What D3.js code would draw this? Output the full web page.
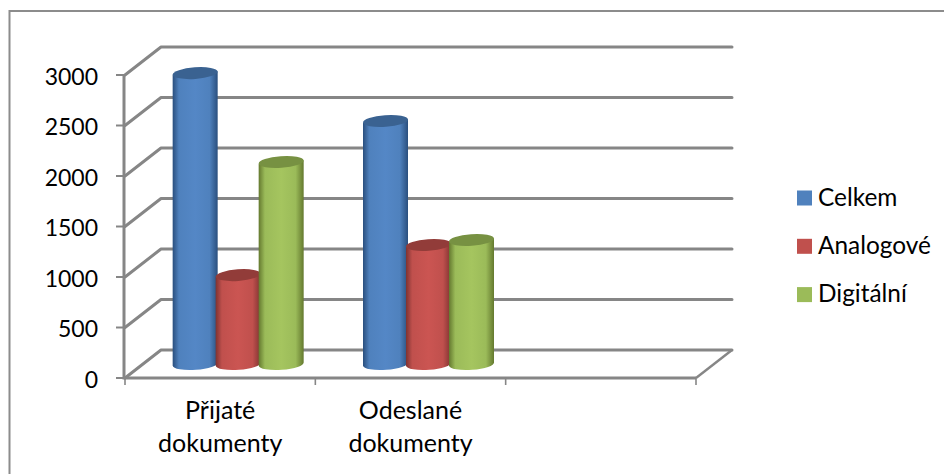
<!DOCTYPE html>
<html>
<head>
<meta charset="utf-8">
<script src="https://cdn.jsdelivr.net/npm/d3@7"></script>
<style>
html,body{margin:0;padding:0;background:#fff}
svg{display:block}
text{font-family:Lato,"Open Sans",sans-serif;fill:#000}
</style>
</head>
<body>
<svg id="chart" width="944" height="474"></svg>
<script>
// Document counts per category and delivery form
const categories = [["Přijaté", "dokumenty"], ["Odeslané", "dokumenty"], ["", ""]];
const seriesNames = ["Celkem", "Analogové", "Digitální"];
const celkem = [2880, 2406];
const analogove = [880, 1178];
const digitalni = [2000, 1228];
const yTicks = [0, 500, 1000, 1500, 2000, 2500, 3000];
const seriesBase = ["#4f81bd", "#c0504d", "#9bbb59"];
const seriesLight = ["#5487c6", "#cb5552", "#a5c55f"];
const seriesDark = ["#2a4f7e", "#7f3331", "#64792f"];
const seriesTop = ["#3a6291", "#923c39", "#779142"];

const svg = d3.select("#chart");
const defs = svg.append("defs");

// Front plane of the 3D box and the offset to its back wall
const depthX = 36, depthY = -28;
const xScale = d3.scaleBand().domain(d3.range(categories.length)).range([125, 696]);
const yScale = d3.scaleLinear().domain([0, 3000]).range([378, 75]);
const groupInner = d3.scaleBand().domain(d3.range(3)).range([-64.5, 64.5]);

// Outer chart frame, open on the right and at the bottom
svg.append("path")
  .attr("d", "M9.5,474V11H944")
  .attr("fill", "none").attr("stroke", "#8c8c8c").attr("stroke-width", 2);

// Gridlines running along the side wall and the back wall
const axisColor = "#868686";
const grid = svg.append("g").attr("fill", "none").attr("stroke", axisColor).attr("stroke-width", 3);
grid.selectAll("path").data(yTicks).join("path")
  .attr("stroke-linejoin", "round")
  .attr("stroke-linecap", "round")
  .attr("d", d => {
    const y = yScale(d);
    return `M125,${y}L${125 + depthX},${y + depthY}H${696 + depthX}`;
  });

// Floor edge on the right side
grid.append("path").attr("stroke-width", 2.4).attr("d",
  `M696,${yScale(0)}L${696 + depthX},${yScale(0) + depthY}`);

// Front axes with tick marks
const axes = svg.append("g").attr("fill", "none").attr("stroke", axisColor);
axes.append("path").attr("stroke-width", 3).attr("d", `M124,${yScale(3000)}V${yScale(0)}H696`);
axes.selectAll(".ytick").data(yTicks).join("path").attr("class", "ytick").attr("stroke-width", 2)
  .attr("d", d => `M116,${yScale(d)}H124`);
axes.selectAll(".xtick").data(d3.range(categories.length + 1)).join("path").attr("class", "xtick").attr("stroke-width", 1.6)
  .attr("d", i => {
    const x = 125 + i * xScale.step();
    return `M${x},${yScale(0)}V${yScale(0) + 7}`;
  });

// Horizontal shading of each cylinder
seriesBase.forEach((c, i) => {
  const g = defs.append("linearGradient").attr("id", "cyl" + i);
  [[0, seriesDark[i]], [0.14, seriesBase[i]], [0.5, seriesLight[i]], [0.82, seriesBase[i]], [1, seriesDark[i]]]
    .forEach(([o, col]) => g.append("stop").attr("offset", o).attr("stop-color", col));
});

// Cylinders, each standing midway through the floor depth
const barW = 45, ry = 5.8, tilt = 0.075;
const valuesBySeries = [celkem, analogove, digitalni];
const bars = svg.append("g");
valuesBySeries.forEach((vals, s) => {
  vals.forEach((v, c) => {
    const cx = xScale(c) + xScale.bandwidth() / 2 + depthX / 2 + groupInner(s) + groupInner.bandwidth() / 2;
    const yBase = yScale(0) + depthY / 2;
    const yTop = yBase - (yScale(0) - yScale(v));
    const l = cx - barW / 2, r = cx + barW / 2, dy = tilt * barW / 2;
    bars.append("path")
      .attr("fill", `url(#cyl${s})`)
      .attr("d", `M${l},${yTop + dy}L${l},${yBase + dy}A${barW / 2},${ry} -4 0 0 ${r},${yBase - dy}L${r},${yTop - dy}Z`);
    bars.append("ellipse")
      .attr("cx", cx).attr("cy", yTop).attr("rx", barW / 2).attr("ry", ry)
      .attr("transform", `rotate(-4 ${cx} ${yTop})`)
      .attr("fill", seriesTop[s]);
  });
});

// Value axis labels
svg.append("g").selectAll("text").data(yTicks).join("text")
  .attr("x", 98).attr("y", d => yScale(d) + 9.5)
  .attr("text-anchor", "end").attr("font-size", 23).text(d => d);

// Category labels on two lines
categories.forEach((lines, i) => {
  const t = svg.append("text").attr("text-anchor", "middle").attr("font-size", 25);
  lines.forEach((ln, k) => {
    t.append("tspan").attr("x", xScale(i) + xScale.bandwidth() / 2).attr("y", 419 + k * 33).text(ln);
  });
});

// Legend
const legend = svg.append("g");
seriesNames.forEach((n, i) => {
  const y = 198 + i * 48.3;
  legend.append("rect").attr("x", 797).attr("y", y - 7.5).attr("width", 15).attr("height", 15).attr("fill", seriesBase[i]);
  legend.append("text").attr("x", 818).attr("y", y + 7.5).attr("font-size", 24.4).text(n);
});
</script>
</body>
</html>
